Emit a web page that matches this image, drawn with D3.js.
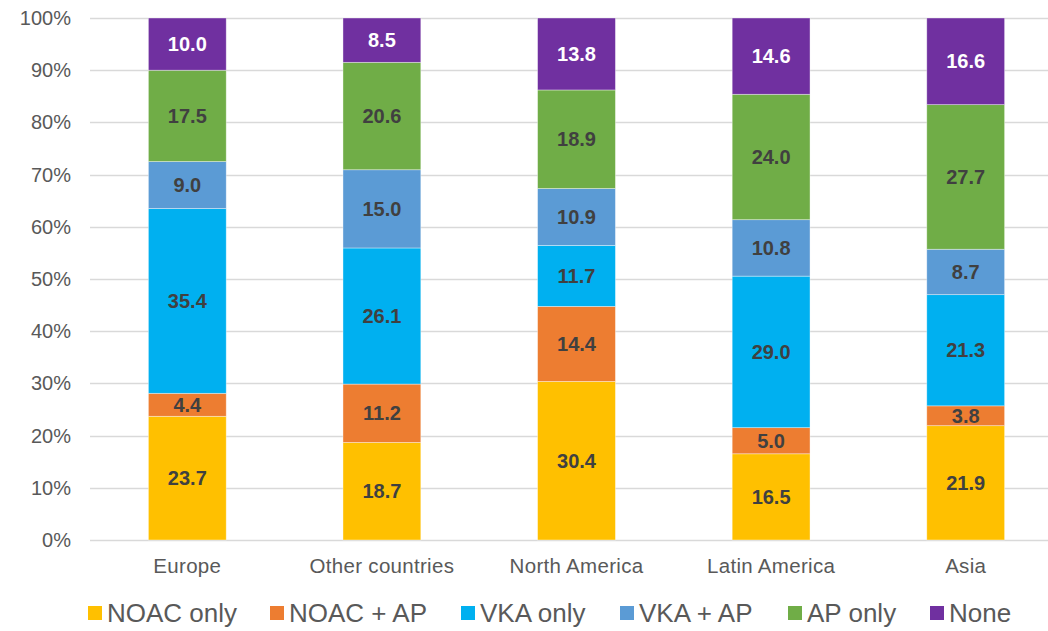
<!DOCTYPE html>
<html>
<head>
<meta charset="utf-8">
<script src="https://cdn.jsdelivr.net/npm/d3@7"></script>
<style>
  body { margin: 0; background: #fff; }
  text { font-family: "Liberation Sans", Arial, sans-serif; }
</style>
</head>
<body>
<div id="chart"></div>
<script>
var regions = ['Europe', 'Other countries', 'North America', 'Latin America', 'Asia'];
var seriesNames = ['NOAC only', 'NOAC + AP', 'VKA only', 'VKA + AP', 'AP only', 'None'];
var noacOnly = [23.7, 18.7, 30.4, 16.5, 21.9];
var noacAp   = [4.4, 11.2, 14.4, 5.0, 3.8];
var vkaOnly  = [35.4, 26.1, 11.7, 29.0, 21.3];
var vkaAp    = [9.0, 15.0, 10.9, 10.8, 8.7];
var apOnly   = [17.5, 20.6, 18.9, 24.0, 27.7];
var none     = [10.0, 8.5, 13.8, 14.6, 16.6];
var yTicks = [0, 0.1, 0.2, 0.3, 0.4, 0.5, 0.6, 0.7, 0.8, 0.9, 1];
var colors = ['#FFC000', '#ED7D31', '#00B0F0', '#5B9BD5', '#70AD47', '#7030A0'];

var allSeries = [noacOnly, noacAp, vkaOnly, vkaAp, apOnly, none];
var table = regions.map(function(r, i) {
  var row = { region: r };
  seriesNames.forEach(function(s, j) { row[s] = allSeries[j][i]; });
  return row;
});

var width = 1048, height = 631;
var svg = d3.select('#chart').append('svg')
  .attr('width', width)
  .attr('height', height);

var xScale = d3.scaleBand()
  .domain(regions)
  .range([90, 1063])
  .paddingInner(0.6)
  .paddingOuter(0.3);

var yScale = d3.scaleLinear()
  .domain([0, 1])
  .range([540, 18]);

var stack = d3.stack().keys(seriesNames).offset(d3.stackOffsetExpand);
var layers = stack(table);

// gridlines
svg.append('g').selectAll('line')
  .data(yTicks)
  .enter().append('line')
  .attr('x1', 90).attr('x2', width)
  .attr('y1', function(d) { return Math.round(yScale(d)) + 0.5; })
  .attr('y2', function(d) { return Math.round(yScale(d)) + 0.5; })
  .style('stroke', '#D9D9D9')
  .style('stroke-width', 1.5);

// y labels
svg.append('g').selectAll('text')
  .data(yTicks)
  .enter().append('text')
  .attr('x', 71)
  .attr('y', function(d) { return yScale(d) + 7; })
  .attr('text-anchor', 'end')
  .style('font-size', '20px')
  .style('fill', '#595959')
  .text(function(d) { return d3.format('.0%')(d); });

var groups = svg.append('g').selectAll('g')
  .data(layers)
  .enter().append('g')
  .style('fill', function(d, i) { return colors[i]; });

groups.selectAll('rect')
  .data(function(d) { return d; })
  .enter().append('rect')
  .attr('x', function(d) { return xScale(d.data.region); })
  .attr('width', xScale.bandwidth())
  .attr('y', function(d) { return yScale(d[1]); })
  .attr('height', function(d) { return yScale(d[0]) - yScale(d[1]); })
  .style('stroke', 'rgba(255,255,255,0.5)')
  .style('stroke-width', 0.75);

groups.each(function(layer, i) {
  d3.select(this).selectAll('text')
    .data(layer)
    .enter().append('text')
    .attr('x', function(d) { return xScale(d.data.region) + xScale.bandwidth() / 2; })
    .attr('y', function(d) { return (yScale(d[0]) + yScale(d[1])) / 2 + 7; })
    .attr('text-anchor', 'middle')
    .style('font-size', '20px')
    .style('font-weight', 'bold')
    .style('fill', layer.key == 'None' ? '#ffffff' : '#404040')
    .text(function(d) { return d3.format('.1f')(d.data[layer.key]); });
});

// category labels
svg.append('g').selectAll('text')
  .data(regions)
  .enter().append('text')
  .attr('x', function(d) { return xScale(d) + xScale.bandwidth() / 2; })
  .attr('y', 573)
  .attr('text-anchor', 'middle')
  .style('font-size', '20.5px')
  .style('letter-spacing', '0.3px')
  .style('fill', '#595959')
  .text(function(d) { return d; });

// legend
var legendX = [88, 270, 461, 620, 788, 930];
var legend = svg.append('g').selectAll('g')
  .data(seriesNames)
  .enter().append('g')
  .attr('transform', function(d, i) { return 'translate(' + legendX[i] + ',606)'; });

legend.append('rect')
  .attr('width', 14).attr('height', 14)
  .style('fill', function(d, i) { return colors[i]; });

legend.append('text')
  .attr('x', 19)
  .attr('y', 16)
  .style('font-size', '26px')
  .style('fill', '#595959')
  .text(function(d) { return d; });
</script>
</body>
</html>
